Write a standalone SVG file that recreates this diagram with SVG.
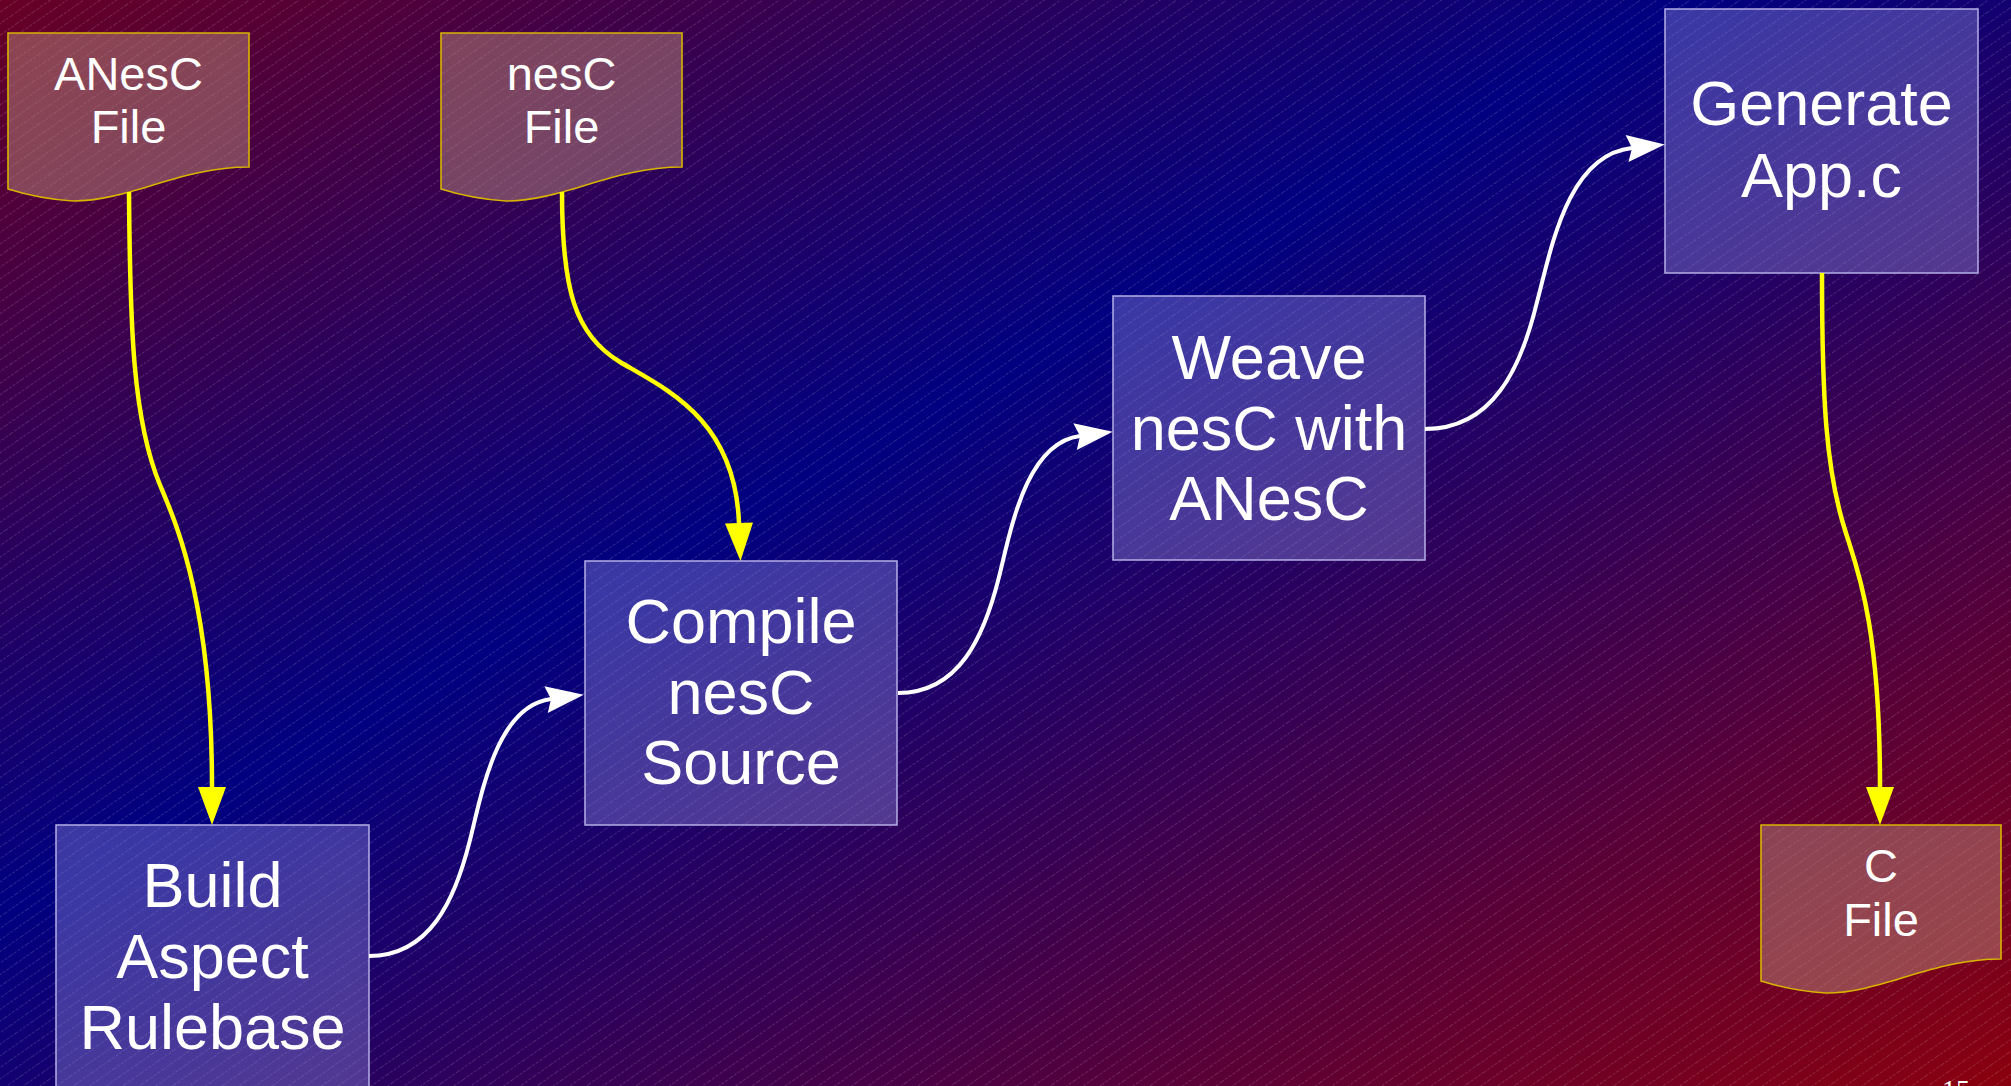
<svg xmlns="http://www.w3.org/2000/svg" width="2011" height="1086" viewBox="0 0 2011 1086">
  <defs>
    <linearGradient id="bg" x1="0" y1="0" x2="1" y2="1">
      <stop offset="0" stop-color="#680024"/>
      <stop offset="0.42" stop-color="#000080"/>
      <stop offset="1" stop-color="#8a000e"/>
    </linearGradient>
    <pattern id="hatch" patternUnits="userSpaceOnUse" width="20" height="9.5" patternTransform="rotate(-35)">
      <line x1="0" y1="0.5" x2="20" y2="0.5" stroke="#ffffff" stroke-opacity="0.16" stroke-width="1" stroke-dasharray="3 1.5"/>
    </pattern>
    <marker id="ay" markerUnits="userSpaceOnUse" markerWidth="40" markerHeight="30" refX="0" refY="0" orient="auto" overflow="visible">
      <path d="M0,-14 L38,0 L0,14 Z" fill="#ffff00"/>
    </marker>
    <marker id="aw" markerUnits="userSpaceOnUse" markerWidth="40" markerHeight="30" refX="0" refY="0" orient="auto" overflow="visible">
      <path d="M-5,-13.5 L33,0 L-5,13.5 L0,0 Z" fill="#ffffff"/>
    </marker>
    <style>
      .proc { fill: #8a86d8; fill-opacity: 0.42; stroke: #b4aee6; stroke-width: 1.5; }
      .doc { fill: #b8887a; fill-opacity: 0.5; stroke: #d8b400; stroke-width: 1.6; }
      .pt { font-family: "Liberation Sans", Arial, sans-serif; font-size: 63px; fill: #ffffff; text-anchor: middle; }
      .dt { font-family: "Liberation Sans", Arial, sans-serif; font-size: 47px; fill: #ffffff; text-anchor: middle; }
      .cy { fill: none; stroke: #ffff00; stroke-width: 4.5; marker-end: url(#ay); }
      .cw { fill: none; stroke: #ffffff; stroke-width: 4; marker-end: url(#aw); }
    </style>
  </defs>

  <rect x="0" y="0" width="2011" height="1086" fill="url(#bg)"/>
  <rect x="0" y="0" width="2011" height="1086" fill="url(#hatch)"/>

  <g id="node-anesc-file">
    <path class="doc" d="M8,33 H249 V167 C180,167 130,201 73,201 Q40,199 8,189 Z"/>
    <text class="dt" x="128.5" y="90">ANesC</text>
    <text class="dt" x="128.5" y="143">File</text>
  </g>

  <g id="node-nesc-file">
    <path class="doc" d="M441,33 H682 V167 C613,167 563,201 506,201 Q473,199 441,189 Z"/>
    <text class="dt" x="561.5" y="90">nesC</text>
    <text class="dt" x="561.5" y="143">File</text>
  </g>

  <g id="node-build">
    <rect class="proc" x="56" y="825" width="313" height="264"/>
    <text class="pt" x="212.5" y="907">Build</text>
    <text class="pt" x="212.5" y="978">Aspect</text>
    <text class="pt" x="212.5" y="1049">Rulebase</text>
  </g>

  <g id="node-compile">
    <rect class="proc" x="585" y="561" width="312" height="264"/>
    <text class="pt" x="741" y="643">Compile</text>
    <text class="pt" x="741" y="714">nesC</text>
    <text class="pt" x="741" y="784">Source</text>
  </g>

  <g id="node-weave">
    <rect class="proc" x="1113" y="296" width="312" height="264"/>
    <text class="pt" x="1269" y="379">Weave</text>
    <text class="pt" x="1269" y="450">nesC with</text>
    <text class="pt" x="1269" y="520">ANesC</text>
  </g>

  <g id="node-generate">
    <rect class="proc" x="1665" y="9" width="313" height="264"/>
    <text class="pt" x="1821.5" y="125">Generate</text>
    <text class="pt" x="1821.5" y="197">App.c</text>
  </g>

  <g id="node-c-file">
    <path class="doc" d="M1761,825 H2001 V959 C1932,959 1882,993 1826,993 Q1793,991 1761,981 Z"/>
    <text class="dt" x="1881" y="882">C</text>
    <text class="dt" x="1881" y="936">File</text>
  </g>

  <g id="connectors">
    <path class="cy" d="M129,192 C130,330 133,420 160,485 C175,521 212,600 212,787"/>
    <path class="cy" d="M562,192 C562,290 575,335 620,362 C668,390 735,420 739,523"/>
    <path class="cw" d="M369,956 C430,956 455,900 470,840 C482,792 497,706 551,699"/>
    <path class="cw" d="M898,693 C959,693 984,637 999,577 C1011,529 1026,443 1080,436"/>
    <path class="cw" d="M1425,429 C1493,429 1521,368 1537,302 C1551,250 1567,155 1632,148"/>
    <path class="cy" d="M1822,273 C1822,400 1826,470 1845,530 C1856,566 1880,620 1880,787"/>
  </g>

  <text x="1970" y="1099" font-family="Liberation Serif, serif" font-size="28" fill="#ffffff" text-anchor="end">15</text>
</svg>
